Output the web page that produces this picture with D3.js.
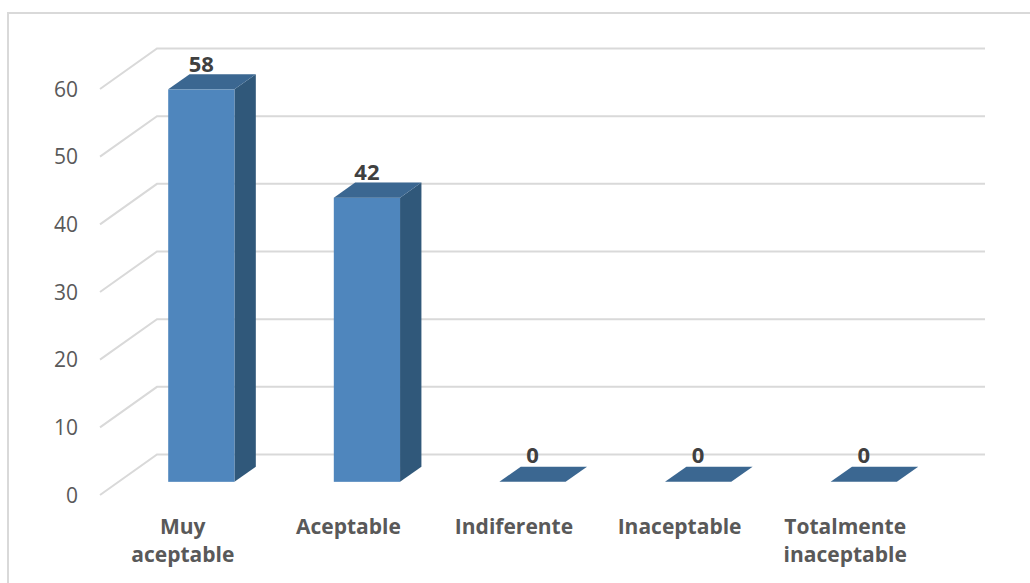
<!DOCTYPE html>
<html>
<head>
<meta charset="utf-8">
<script src="https://cdn.jsdelivr.net/npm/d3@7"></script>
<style>
  body { margin: 0; background: #fff; }
  svg { display: block; }
</style>
</head>
<body>
<script>
// data
const categories = ["Muy aceptable", "Aceptable", "Indiferente", "Inaceptable", "Totalmente inaceptable"];
const values = [58, 42, 0, 0, 0];
const yTicks = [0, 10, 20, 30, 40, 50, 60];

const W = 1030, H = 583;

// oblique 3d: full depth shift of the box
const DX = 57, DY = -40.5;
// bar sits between these depth fractions
const zFront = 0.325, zBack = 0.7;

const svg = d3.select("body")
    .append("svg")
    .attr("width", W)
    .attr("height", H);

// outer chart border
svg.append("rect")
    .attr("x", 8).attr("y", 13)
    .attr("width", 1040).attr("height", 600)
    .attr("fill", "none")
    .attr("stroke", "#d9d9d9")
    .attr("stroke-width", 2);

// scales on the front plane
const x = d3.scaleBand()
    .domain(categories)
    .range([100, 928])
    .paddingInner(0.6)
    .paddingOuter(0.3);

const y = d3.scaleLinear()
    .domain([0, 60])
    .range([495, 89]);

const step = x.step();
const xLeft = 100, xRight = 100 + step * categories.length;

// gridlines: side wall diagonal + back wall horizontal
const grid = svg.append("g");
grid.selectAll(".diag")
    .data(yTicks)
    .enter()
    .append("path")
    .attr("d", d => `M${xLeft},${y(d)} L${xLeft + DX},${y(d) + DY} L${xRight + DX},${y(d) + DY}`)
    .attr("fill", "none")
    .attr("stroke", "#d9d9d9")
    .attr("stroke-width", 2);

// y axis labels
svg.append("g")
    .selectAll("text")
    .data(yTicks)
    .enter()
    .append("text")
    .attr("x", 78)
    .attr("y", d => y(d) + 2)
    .attr("dominant-baseline", "middle")
    .attr("text-anchor", "end")
    .style("font-family", "'Open Sans', sans-serif")
    .style("font-size", "21px")
    .style("fill", "#595959")
    .text(d => d);

// bars
const bw = x.bandwidth();
const dz = zBack - zFront;
const bars = svg.append("g")
    .selectAll("g")
    .data(categories.map((c, i) => ({ c, v: values[i] })))
    .enter()
    .append("g");

bars.each(function (d) {
    const g = d3.select(this);
    const x0 = x(d.c) + zFront * DX;
    const x1 = x0 + bw;
    const yb = y(0) + zFront * DY;
    const yt = y(d.v) + zFront * DY;
    const ox = dz * DX, oy = dz * DY;
    if (d.v > 0) {
        // side
        g.append("path")
            .attr("d", `M${x1},${yb} L${x1 + ox},${yb + oy} L${x1 + ox},${yt + oy} L${x1},${yt} Z`)
            .attr("fill", "#30587a");
        // front
        g.append("rect")
            .attr("x", x0).attr("y", yt)
            .attr("width", bw).attr("height", yb - yt)
            .attr("fill", "#4f86bd");
    }
    // top
    g.append("path")
        .attr("d", `M${x0},${yt} L${x1},${yt} L${x1 + ox},${yt + oy} L${x0 + ox},${yt + oy} Z`)
        .attr("fill", "#3b6791");
    // value label
    g.append("text")
        .attr("x", x0 + bw / 2)
        .attr("y", yt + oy - (d.v > 0 ? 2 : 4))
        .attr("text-anchor", "middle")
        .style("font-family", "'Open Sans', sans-serif")
        .style("font-size", "22px")
        .style("font-weight", "bold")
        .style("fill", "#404040")
        .text(d.v);
});

// category labels, wrapped at spaces
const cats = svg.append("g")
    .selectAll("text")
    .data(categories)
    .enter()
    .append("text")
    .attr("x", d => x(d) + bw / 2)
    .attr("y", 534)
    .attr("text-anchor", "middle")
    .style("font-family", "'Open Sans', sans-serif")
    .style("font-size", "21px")
    .style("font-weight", "bold")
    .style("fill", "#595959");

cats.each(function (d) {
    const t = d3.select(this);
    d.split(" ").forEach((w, i) => {
        t.append("tspan")
            .attr("x", x(d) + bw / 2)
            .attr("dy", i === 0 ? 0 : 28)
            .text(w);
    });
});
</script>
</body>
</html>
